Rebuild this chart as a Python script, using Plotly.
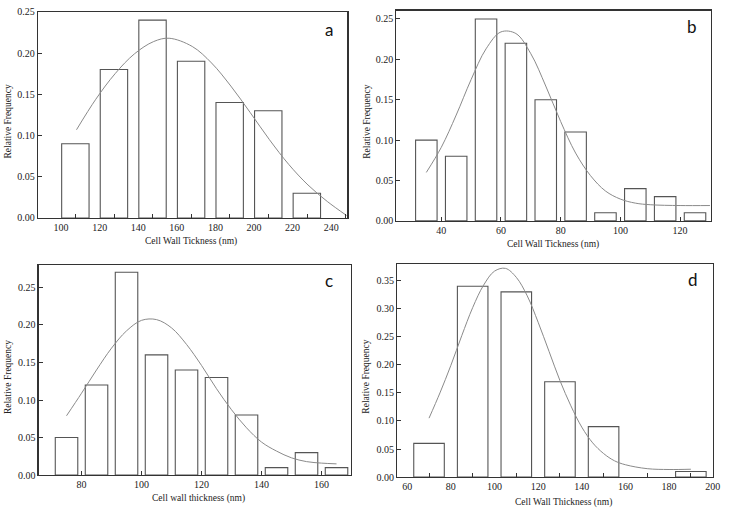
import plotly.graph_objects as go

# ---------------- data ----------------
# Panel a
a_bin_start = [100, 120, 140, 160, 180, 200, 220]
a_freq = [0.09, 0.18, 0.24, 0.19, 0.14, 0.13, 0.03]
a_fit_x = [108, 118, 128, 138, 148, 156, 168, 178, 188, 198, 208, 218, 228, 238, 248]
a_fit_y = [0.107, 0.144, 0.175, 0.199, 0.214, 0.218, 0.208, 0.188, 0.160, 0.128, 0.095, 0.065, 0.040, 0.020, 0.003]

# Panel b
b_bin_center = [35, 45, 55, 65, 75, 85, 95, 105, 115, 125]
b_freq = [0.10, 0.08, 0.25, 0.22, 0.15, 0.11, 0.01, 0.04, 0.03, 0.01]
b_fit_x = [35, 40, 45, 50, 55, 60, 65, 70, 75, 80, 85, 90, 95, 100, 105, 110, 120, 130]
b_fit_y = [0.060, 0.091, 0.131, 0.175, 0.213, 0.234, 0.232, 0.207, 0.167, 0.123, 0.084, 0.056,
           0.037, 0.027, 0.022, 0.020, 0.019, 0.019]

# Panel c
c_bin_center = [75, 85, 95, 105, 115, 125, 135, 145, 155, 165]
c_freq = [0.05, 0.12, 0.27, 0.16, 0.14, 0.13, 0.08, 0.01, 0.03, 0.01]
c_fit_x = [75, 80, 85, 90, 95, 100, 105, 110, 115, 120, 125, 130, 135, 140, 145, 150, 155, 160, 165]
c_fit_y = [0.079, 0.109, 0.140, 0.169, 0.192, 0.206, 0.207, 0.196, 0.174, 0.146, 0.115, 0.087,
           0.063, 0.044, 0.032, 0.023, 0.018, 0.016, 0.015]

# Panel d
d_bin_center = [70, 90, 110, 130, 150, 190]
d_freq = [0.06, 0.34, 0.33, 0.17, 0.09, 0.01]
d_fit_x = [70, 75, 80, 85, 90, 95, 100, 105, 110, 115, 120, 125, 130, 135, 140, 145, 150, 155,
           160, 170, 180, 190]
d_fit_y = [0.105, 0.150, 0.199, 0.252, 0.302, 0.342, 0.367, 0.372, 0.356, 0.323, 0.276, 0.224,
           0.172, 0.127, 0.089, 0.061, 0.042, 0.029, 0.022, 0.015, 0.0135, 0.014]

x_titles = ["Cell Wall Tickness (nm)", "Cell Wall Tickness (nm)",
            "Cell wall thickness (nm)", "Cell Wall Thickness (nm)"]
y_title = "Relative Frequency"
letters = ["a", "b", "c", "d"]

# ---------------- figure ----------------
W, H = 733, 516
BAR_LINE = "#555555"
FIT_COLOR = "#8a8a8a"
SERIF = "Liberation Serif"

fig = go.Figure()

def bar(x, y, xa, ya, width, offset=None):
    kw = dict(x=x, y=y, xaxis=xa, yaxis=ya, width=width,
              marker=dict(color="white", line=dict(color=BAR_LINE, width=1.1)),
              hoverinfo="skip", showlegend=False)
    if offset is not None:
        kw["offset"] = offset
    fig.add_trace(go.Bar(**kw))

def fit(x, y, xa, ya):
    fig.add_trace(go.Scatter(x=x, y=y, xaxis=xa, yaxis=ya, mode="lines",
                             line=dict(color=FIT_COLOR, width=1, shape="spline", smoothing=1),
                             hoverinfo="skip", showlegend=False))

bar(a_bin_start, a_freq, "x", "y", 14.2, offset=0.3)
fit(a_fit_x, a_fit_y, "x", "y")
bar(b_bin_center, b_freq, "x2", "y2", 7.2)
fit(b_fit_x, b_fit_y, "x2", "y2")
bar(c_bin_center, c_freq, "x3", "y3", 7.5)
fit(c_fit_x, c_fit_y, "x3", "y3")
bar(d_bin_center, d_freq, "x4", "y4", 14)
fit(d_fit_x, d_fit_y, "x4", "y4")

def px_dom(x0, x1):
    return [x0 / W, x1 / W]

def py_dom(top, bottom):
    return [1 - bottom / H, 1 - top / H]

tickfont = dict(family=SERIF, size=10, color="#222222")
axis_common = dict(showline=True, mirror=True, linecolor="#333333", linewidth=1.2,
                   showgrid=False, zeroline=False, tickfont=tickfont,
                   tickcolor="#333333", fixedrange=True)

panels = [
    dict(xd=(38.3, 350.7), yd=(6, 217), xr=[88, 248.4], xt0=100, xdt=20, yr=[0, 0.25], ydt=0.05,
         minor=dict(ticks="inside", tick0=107.5, dtick=20, ticklen=4, tickcolor="#333333"), major_ticks=""),
    dict(xd=(400.3, 717.7), yd=(4.7, 220), xr=[25, 130.3], xt0=40, xdt=20, yr=[0, 0.2604], ydt=0.05,
         minor=None, major_ticks="inside"),
    dict(xd=(39, 354.3), yd=(265.3, 480.3), xr=[65.7, 169.8], xt0=80, xdt=20, yr=[0, 0.2795], ydt=0.05,
         minor=None, major_ticks="inside"),
    dict(xd=(401, 720), yd=(264, 482.3), xr=[55.4, 200.2], xt0=60, xdt=20, yr=[0, 0.380], ydt=0.05,
         minor=dict(ticks="inside", tick0=70, dtick=20, ticklen=4, tickcolor="#333333"), major_ticks=""),
]

layout = {}
for i, p in enumerate(panels):
    sfx = "" if i == 0 else str(i + 1)
    xa = dict(axis_common, domain=px_dom(*p["xd"]), range=p["xr"], anchor="y" + sfx,
              tickmode="linear", tick0=p["xt0"], dtick=p["xdt"], ticks=p["major_ticks"], ticklen=4)
    if p["minor"] is not None:
        xa["minor"] = p["minor"]
    ya = dict(axis_common, domain=py_dom(*p["yd"]), range=p["yr"], anchor="x" + sfx,
              tickmode="linear", tick0=0, dtick=p["ydt"], tickformat=".2f",
              ticks="inside", ticklen=4)
    layout["xaxis" + sfx] = xa
    layout["yaxis" + sfx] = ya

fig.update_layout(**layout)

xt_pos = [(193, 240.7), (558.7, 244.3), (200, 504.7), (569.3, 508)]
yt_pos = [(8.3, 118), (371, 118), (8.3, 379.7), (369.3, 379.7)]
let_pos = [(332.3, 24), (699, 21), (332.3, 280.7), (699.3, 279.7)]

annotations = []
for i in range(4):
    x, y = xt_pos[i]
    annotations.append(dict(x=x / W, y=1 - y / H, xref="paper", yref="paper", text=x_titles[i],
                            showarrow=False, xanchor="center", yanchor="middle",
                            font=dict(family=SERIF, size=9.5, color="#222222")))
    x, y = yt_pos[i]
    annotations.append(dict(x=x / W, y=1 - y / H, xref="paper", yref="paper", text=y_title,
                            showarrow=False, xanchor="center", yanchor="middle", textangle=-90,
                            font=dict(family=SERIF, size=9.5, color="#222222")))
    x, y = let_pos[i]
    annotations.append(dict(x=x / W, y=1 - y / H, xref="paper", yref="paper", text=letters[i],
                            showarrow=False, xanchor="center", yanchor="middle",
                            font=dict(family="Lato", size=17, color="#111111")))

fig.update_layout(width=W, height=H, margin=dict(l=0, r=0, t=0, b=0),
                  paper_bgcolor="white", plot_bgcolor="white",
                  annotations=annotations, showlegend=False, bargap=0)

fig.write_html("out.html",
               config={"displayModeBar": False, "staticPlot": True},
               post_script="document.body.style.margin='0';document.body.style.overflow='hidden';"
                           "document.documentElement.style.overflow='hidden';")
